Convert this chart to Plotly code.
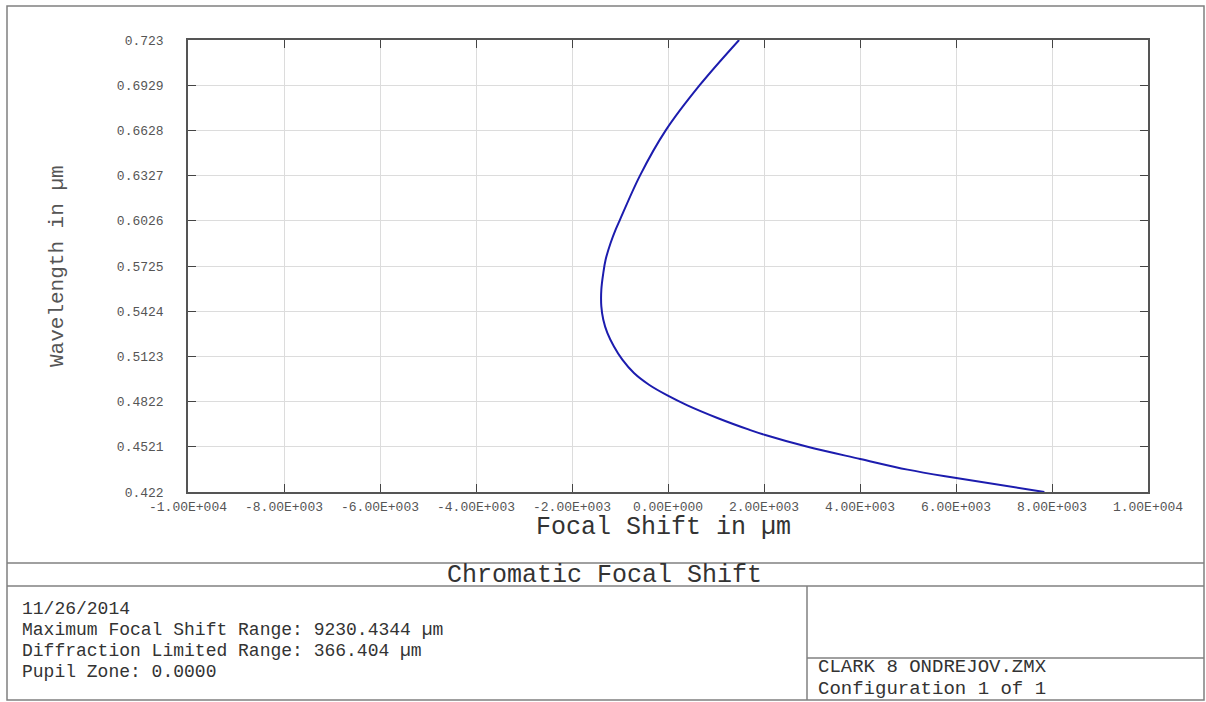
import plotly.graph_objects as go

# ---- data ----
wavelength = [0.4220, 0.4313, 0.4369, 0.4440, 0.4521, 0.4601, 0.4635, 0.4713, 0.4797,
              0.4863, 0.4934, 0.5012, 0.5101, 0.5189, 0.5279, 0.5367, 0.5456, 0.5567,
              0.5678, 0.5767, 0.5878, 0.5967, 0.6026, 0.6327, 0.6628, 0.6929, 0.7230]
focal_shift = [7841, 6006, 4993, 4004, 2907, 2010, 1689, 1030, 404,
               -13, -396, -709, -951, -1126, -1264, -1348, -1389, -1389,
               -1348, -1300, -1196, -1091, -1010, -584, -48, 660, 1481]

x_tick_vals = [-10000, -8000, -6000, -4000, -2000, 0, 2000, 4000, 6000, 8000, 10000]
x_tick_text = ["-1.00E+004", "-8.00E+003", "-6.00E+003", "-4.00E+003", "-2.00E+003",
               "0.00E+000", "2.00E+003", "4.00E+003", "6.00E+003", "8.00E+003", "1.00E+004"]
y_tick_vals = [0.422, 0.4521, 0.4822, 0.5123, 0.5424, 0.5725, 0.6026, 0.6327, 0.6628, 0.6929, 0.723]
y_tick_text = ["0.422", "0.4521", "0.4822", "0.5123", "0.5424", "0.5725", "0.6026",
               "0.6327", "0.6628", "0.6929", "0.723"]

title_text = "Chromatic Focal Shift"
x_title = "Focal Shift in µm"
y_title = "Wavelength in µm"
footer_left = ["11/26/2014",
               "Maximum Focal Shift Range: 9230.4344 µm",
               "Diffraction Limited Range: 366.404 µm",
               "Pupil Zone: 0.0000"]
footer_right = ["CLARK 8 ONDREJOV.ZMX", "Configuration 1 of 1"]

# ---- layout geometry ----
W, H = 1206, 702
L, R, T, B = 188, 58, 40, 210
PW, PH = W - L - R, H - T - B
FONT = "Liberation Mono, Courier New, monospace"


def px(x):
    return (x - L) / PW


def py(y):
    return (H - B - y) / PH


fig = go.Figure()
fig.add_trace(go.Scatter(
    x=focal_shift, y=wavelength, mode="lines",
    line=dict(color="#1c1cae", width=2, shape="spline", smoothing=1.0),
    showlegend=False, hoverinfo="skip"))

axis_common = dict(
    showline=True, linecolor="#555555", linewidth=1.5, mirror="ticks",
    ticks="inside", ticklen=8, tickcolor="#444444", tickwidth=1.2,
    showgrid=True, gridcolor="#dcdcdc", gridwidth=1, zeroline=False,
    tickfont=dict(family=FONT, size=13, color="#555555"),
)

fig.update_xaxes(range=[-10000, 10000], tickmode="array", tickvals=x_tick_vals,
                 ticktext=x_tick_text, ticklabelstandoff=2, **axis_common)
fig.update_yaxes(range=[0.422, 0.723], tickmode="array", tickvals=y_tick_vals,
                 ticktext=y_tick_text, ticklabelstandoff=20, **axis_common)

border = dict(color="#808080", width=1.5)
shapes = [
    dict(type="rect", xref="paper", yref="paper", x0=px(7), x1=px(1204), y0=py(6), y1=py(700), line=border),
    dict(type="line", xref="paper", yref="paper", x0=px(7), x1=px(1204), y0=py(563), y1=py(563), line=border),
    dict(type="line", xref="paper", yref="paper", x0=px(7), x1=px(1204), y0=py(586), y1=py(586), line=border),
    dict(type="line", xref="paper", yref="paper", x0=px(807), x1=px(807), y0=py(586), y1=py(700), line=border),
    dict(type="line", xref="paper", yref="paper", x0=px(807), x1=px(1204), y0=py(658), y1=py(658), line=border),
]

ann = []
ann.append(dict(text=x_title, xref="paper", yref="paper", x=px(663), y=py(527),
                xanchor="center", yanchor="middle", showarrow=False,
                font=dict(family=FONT, size=25, color="#333333")))
ann.append(dict(text=y_title, xref="paper", yref="paper", x=px(57), y=py(266),
                xanchor="center", yanchor="middle", showarrow=False, textangle=-90,
                font=dict(family=FONT, size=21, color="#555555")))
ann.append(dict(text=title_text, xref="paper", yref="paper", x=px(604), y=py(575),
                xanchor="center", yanchor="middle", showarrow=False,
                font=dict(family=FONT, size=25, color="#333333")))
for line, yc in zip(footer_left, [609, 630, 651, 672]):
    ann.append(dict(text=line, xref="paper", yref="paper", x=px(20), y=py(yc),
                    xanchor="left", yanchor="middle", showarrow=False,
                    font=dict(family=FONT, size=18, color="#333333")))
for line, yc in zip(footer_right, [667, 689]):
    ann.append(dict(text=line, xref="paper", yref="paper", x=px(816), y=py(yc),
                    xanchor="left", yanchor="middle", showarrow=False,
                    font=dict(family=FONT, size=19, color="#333333")))

fig.update_layout(
    width=W, height=H, autosize=False,
    margin=dict(l=L, r=R, t=T, b=B),
    paper_bgcolor="white", plot_bgcolor="white",
    shapes=shapes, annotations=ann, showlegend=False,
)

fig.write_html("out.html", config={"displayModeBar": False},
               post_script="document.body.style.margin='0';document.body.style.overflow='hidden';")
